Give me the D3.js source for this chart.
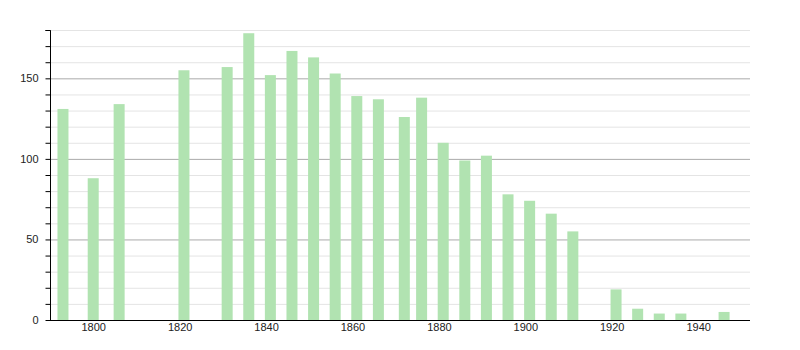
<!DOCTYPE html>
<html>
<head>
<meta charset="utf-8">
<script src="https://cdn.jsdelivr.net/npm/d3@7"></script>
<style>
  body { margin: 0; background: #fff; }
  svg text { font-family: "Liberation Sans", Arial, sans-serif; font-size: 11px; fill: #222; }
</style>
</head>
<body>
<svg id="canvas" width="800" height="350"></svg>
<script>
let years = [1793, 1800, 1806, 1821, 1831, 1836, 1841, 1846, 1851, 1856, 1861, 1866, 1872, 1876,
             1881, 1886, 1891, 1896, 1901, 1906, 1911, 1921, 1926, 1931, 1936, 1946]
let population = [131, 88, 134, 155, 157, 178, 152, 167, 163, 153, 139, 137, 126, 138,
                  110, 99, 102, 78, 74, 66, 55, 19, 7, 4, 4, 5]
let xTicks = [1800, 1820, 1840, 1860, 1880, 1900, 1920, 1940]
let yTicks = [0, 50, 100, 150]

let canvas = d3.select('#canvas')
let plotLeft = 50, plotRight = 750, plotTop = 30, plotBottom = 320

let xScale = d3.scaleLinear().domain([1790, 1952]).range([plotLeft, plotRight])
let yScale = d3.scaleLinear().domain([0, 180]).range([plotBottom, plotTop])

let minor = d3.range(10, 190, 10).filter(v => v % 50 !== 0)

// minor grid
canvas.append('g').selectAll('line')
  .data(minor)
  .enter()
  .append('line')
  .attr('x1', plotLeft).attr('x2', plotRight)
  .attr('y1', v => yScale(v) + 0.5).attr('y2', v => yScale(v) + 0.5)
  .attr('stroke', '#e4e4e4')

// major grid
canvas.append('g').selectAll('line')
  .data(yTicks.filter(v => v > 0))
  .enter()
  .append('line')
  .attr('x1', plotLeft).attr('x2', plotRight)
  .attr('y1', v => yScale(v) + 0.5).attr('y2', v => yScale(v) + 0.5)
  .attr('stroke', '#aaa')

// bars
canvas.append('g').selectAll('rect')
  .data(years)
  .enter()
  .append('rect')
  .attr('x', (y) => xScale(y) - 5.5)
  .attr('width', 11)
  .attr('y', (y, i) => yScale(population[i]))
  .attr('height', (y, i) => plotBottom - yScale(population[i]))
  .attr('fill', '#b1e3b1')

// y axis with minor ticks
let yAxis = d3.axisLeft(yScale)
  .tickValues(d3.range(0, 190, 10))
  .tickSize(5)
  .tickFormat(v => yTicks.includes(v) ? v : '')
let gy = canvas.append('g')
  .attr('transform', 'translate(' + (plotLeft + 0.5) + ',0)')
  .call(yAxis)
gy.select('.domain').attr('d', 'M-5,' + (plotTop + 0.5) + 'H0V' + (plotBottom + 0.5))
gy.selectAll('text').attr('x', -12)

// x axis
let xAxis = d3.axisBottom(xScale)
  .tickValues(xTicks)
  .tickSize(0)
  .tickPadding(3)
  .tickFormat(d3.format('d'))
let gx = canvas.append('g')
  .attr('transform', 'translate(0,' + (plotBottom + 0.5) + ')')
  .call(xAxis)
gx.select('.domain').attr('d', 'M' + plotLeft + ',0H' + plotRight).attr('stroke', '#000')
</script>
</body>
</html>
